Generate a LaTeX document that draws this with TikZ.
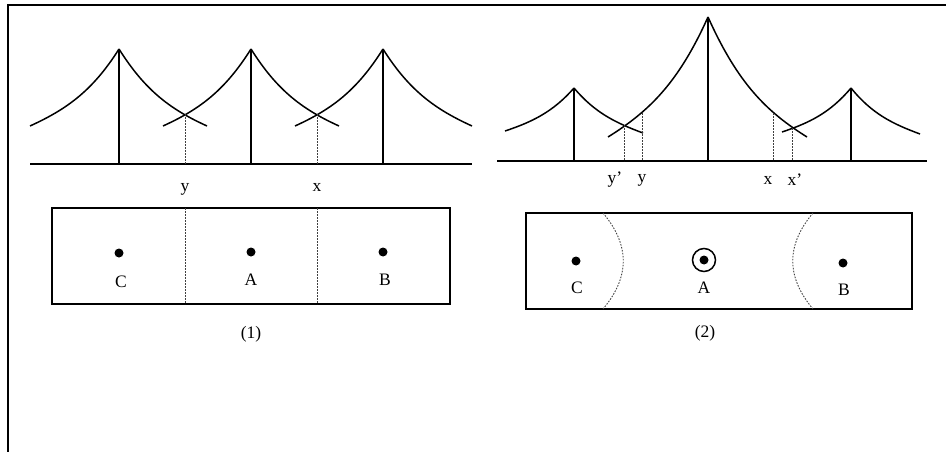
\documentclass[tikz,border=0pt]{standalone}
\usepackage{fontspec}
\setmainfont{Liberation Serif}
\usetikzlibrary{calc}

\begin{document}
\begin{tikzpicture}[
    x=1pt, y=-1pt,
    font=\fontsize{17.5}{20}\selectfont,
    frame/.style={line width=1.8pt},
    base/.style={line width=1.8pt},
    mast/.style={line width=1.8pt},
    lobe/.style={line width=1.5pt},
    cellbox/.style={line width=1.8pt},
    bound/.style={dash pattern=on 1.6pt off 1.4pt, line width=0.9pt, black!75},
    site/.style={circle, fill=black, inner sep=0pt, minimum size=9pt},
    lbl/.style={inner sep=1pt},
]
\useasboundingbox (0,0) rectangle (946,452);

% === Frame ===
\draw[frame] (8,452) -- (8,5) -- (946,5);

% === Panel (1): antenna patterns ===
\draw[base] (30,164) -- (472,164);
\coordinate (p1C) at (119,49);
\coordinate (p1A) at (251,49);
\coordinate (p1B) at (383,49);
\draw[mast] (p1C) -- (119,164);
\draw[mast] (p1A) -- (251,164);
\draw[mast] (p1B) -- (383,164);
% lobes
\draw[lobe] (p1C) .. controls +(-27,43) and +(35,-16) .. (30,126);
\draw[lobe] (p1C) .. controls +(27,43) and +(-35,-16) .. (207,126);
\draw[lobe] (p1A) .. controls +(-27,43) and +(35,-16) .. (163,126);
\draw[lobe] (p1A) .. controls +(27,43) and +(-35,-16) .. (339,126);
\draw[lobe] (p1B) .. controls +(-27,43) and +(35,-16) .. (295,126);
\draw[lobe] (p1B) .. controls +(27,43) and +(-35,-16) .. (472,126);
% crossings
\coordinate (cy1) at (185,114);
\coordinate (cx1) at (317,114);
\draw[bound] (cy1) -- (185,164);
\draw[bound] (cx1) -- (317,164);
\node[lbl] (ly1) at (185,189) {y};
\node[lbl] (lx1) at (317,187) {x};

% === Panel (1): cells ===
\draw[cellbox] (52,208) rectangle (450,304);
\draw[bound] (185,208) -- (185,304);
\draw[bound] (317,208) -- (317,304);
\node[site] (s1C) at (119,253) {};
\node[site] (s1A) at (251,252) {};
\node[site] (s1B) at (383,252) {};
\node[lbl] (n1C) at (121,282) {C};
\node[lbl] (n1A) at (251,280) {A};
\node[lbl] (n1B) at (385,280) {B};
\node[lbl] (cap1) at (251,334) {(1)};

% === Panel (2): antenna patterns ===
\draw[base] (497,161) -- (927,161);
\coordinate (p2C) at (574,88);
\coordinate (p2A) at (708,17);
\coordinate (p2B) at (851,88);
\draw[mast] (p2C) -- (574,161);
\draw[mast] (p2A) -- (708,161);
\draw[mast] (p2B) -- (851,161);
% lobes
\draw[lobe] (p2C) .. controls +(-21,24) and +(27,-9) .. (505,131);
\draw[lobe] (p2C) .. controls +(21,25) and +(-27,-10) .. (643,133);
\draw[lobe] (p2A) .. controls +(-30,67) and +(40,-25) .. (608,137);
\draw[lobe] (p2A) .. controls +(30,67) and +(-40,-25) .. (807,137);
\draw[lobe] (p2B) .. controls +(-21,25) and +(27,-9) .. (782,132);
\draw[lobe] (p2B) .. controls +(21,26) and +(-27,-10) .. (920,134);
% crossings and boundaries
\coordinate (cy2) at (624,125);
\coordinate (cx2) at (792,128);
\draw[bound] (cy2) -- (624,161);
\draw[bound] (642,113) -- (642,161);
\draw[bound] (773,113) -- (773,161);
\draw[bound] (cx2) -- (792,161);
\node[lbl] (ly2p) at (615,180) {y'};
\node[lbl] (ly2) at (642,180) {y};
\node[lbl] (lx2) at (768,180) {x};
\node[lbl] (lx2p) at (795,180) {x'};

% === Panel (2): cells ===
\draw[cellbox] (526,213) rectangle (912,309);
\draw[bound] (603,213) .. controls (630,245) and (630,277) .. (603,309);
\draw[bound] (813,213) .. controls (786,245) and (786,277) .. (813,309);
\node[site] (s2C) at (576,261) {};
\node[site] (s2A) at (704,260) {};
\node[draw, circle, line width=1.5pt, minimum size=23pt, inner sep=0pt] (r2A) at (s2A) {};
\node[site] (s2B) at (843,263) {};
\node[lbl] (n2C) at (577,288) {C};
\node[lbl] (n2A) at (704,288) {A};
\node[lbl] (n2B) at (844,290) {B};
\node[lbl] (cap2) at (705,333) {(2)};

\end{tikzpicture}
\end{document}
